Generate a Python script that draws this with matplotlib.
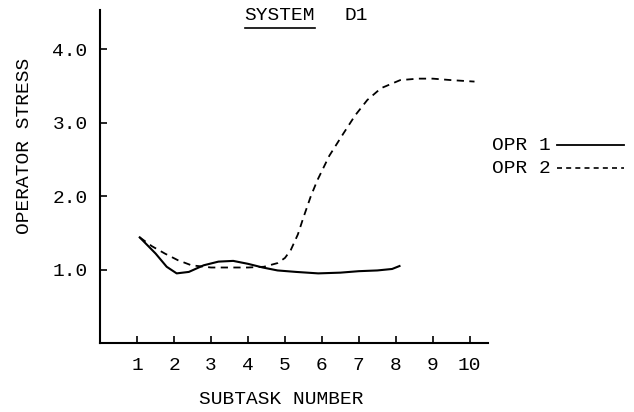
import matplotlib
matplotlib.use("Agg")
import matplotlib.pyplot as plt
from matplotlib.lines import Line2D

plt.rcParams['font.family'] = ['Liberation Mono', 'DejaVu Sans Mono']

# OPR 1 (solid)
opr1_x = [1.07, 1.5, 1.8, 2.07, 2.4, 2.8, 3.2, 3.6, 4.0, 4.4, 4.8, 5.3, 5.9, 6.5, 7.0, 7.5, 7.9, 8.1]
opr1_y = [1.44, 1.22, 1.04, 0.95, 0.97, 1.06, 1.11, 1.12, 1.08, 1.03, 0.99, 0.97, 0.95, 0.96, 0.98, 0.99, 1.01, 1.05]

# OPR 2 (dashed)
opr2_x = [1.07, 1.4, 1.75, 2.1, 2.47, 3.0, 3.5, 4.0, 4.43, 4.8, 5.0, 5.16, 5.35, 5.5, 5.7, 5.88,
          6.2, 6.59, 6.9, 7.23, 7.6, 8.12, 8.6, 9.0, 9.5, 10.13]
opr2_y = [1.44, 1.32, 1.22, 1.13, 1.06, 1.03, 1.03, 1.03, 1.04, 1.09, 1.16, 1.27, 1.48, 1.71, 2.0, 2.22,
          2.55, 2.86, 3.1, 3.31, 3.47, 3.58, 3.6, 3.6, 3.58, 3.56]

xticks = list(range(1, 11))
yticks = [1.0, 2.0, 3.0, 4.0]

fig = plt.figure(figsize=(6.34, 4.12), dpi=100)
ax = fig.add_axes([0.158, 0.167, 0.612, 0.808])

ax.plot(opr1_x, opr1_y, color='black', lw=1.5)
ax.plot(opr2_x, opr2_y, color='black', lw=1.3, dashes=(4, 3))

ax.set_xlim(0, 10.5)
ax.set_ylim(0, 4.53)
for s in ['top', 'right']:
    ax.spines[s].set_visible(False)
for s in ['left', 'bottom']:
    ax.spines[s].set_linewidth(1.5)

ax.set_xticks(xticks)
ax.set_xticklabels([str(t) for t in xticks])
ax.set_yticks(yticks)
ax.set_yticklabels([f"{t:.1f}" for t in yticks])
ax.tick_params(axis='both', direction='in', length=5, width=1.2, labelsize=14)
ax.tick_params(axis='x', pad=10)
ax.tick_params(axis='y', pad=9)

# axis labels
fig.text(0.443, 0.03, "SUBTASK NUMBER", fontsize=14, ha='center', va='center')
fig.text(0.038, 0.645, "OPERATOR STRESS", rotation=90, fontsize=14, ha='center', va='center')

# title with underlined SYSTEM
t = fig.text(0.386, 0.962, "SYSTEM", fontsize=14, ha='left', va='center')
fig.text(0.543, 0.962, "D1", fontsize=14, ha='left', va='center')
fig.canvas.draw()
bb = t.get_window_extent().transformed(fig.transFigure.inverted())
fig.add_artist(Line2D([bb.x0, bb.x1], [bb.y0 - 0.01, bb.y0 - 0.01], color='black', lw=1.2))

# legend
fig.text(0.776, 0.648, "OPR 1", fontsize=14, ha='left', va='center')
fig.text(0.776, 0.592, "OPR 2", fontsize=14, ha='left', va='center')
fig.add_artist(Line2D([0.878, 0.984], [0.648, 0.648], color='black', lw=1.3))
fig.add_artist(Line2D([0.878, 0.984], [0.592, 0.592], color='black', lw=1.2, dashes=(3, 2.5)))

fig.savefig("out.png", dpi=100)
